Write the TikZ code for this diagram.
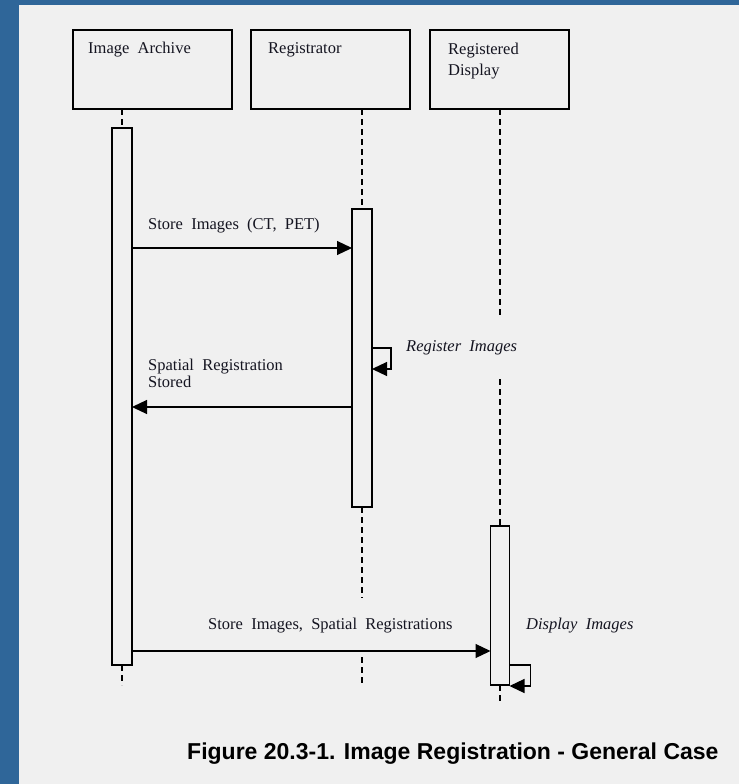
\documentclass[tikz,border=0pt]{standalone}
\usepackage{fontspec}
\setmainfont{Liberation Serif}[WordSpace={2.0}]
\newfontfamily\capfont{Liberation Sans}
\usetikzlibrary{arrows.meta}
\definecolor{bg}{HTML}{F0F0F0}
\definecolor{frame}{RGB}{47,102,153}
\definecolor{ink}{HTML}{141420}
\begin{document}
\begin{tikzpicture}[x=1pt,y=-1pt,
  box/.style={draw, line width=1.3pt, fill=bg, inner sep=0pt, outer sep=0pt,
    minimum width=159pt, minimum height=79pt},
  actbar/.style={draw, line width=1.3pt, fill=bg, inner sep=0pt, outer sep=0pt,
    minimum width=20pt},
  life/.style={line width=1.3pt, dash pattern=on 6pt off 4pt},
  msg/.style={line width=1.2pt, -{Triangle[length=15pt,width=14pt]}},
  txt/.style={inner sep=0pt, anchor=base west, text=ink, font=\fontsize{16.5}{20}\selectfont},
  itxt/.style={txt, font=\fontsize{16.5}{20}\selectfont\itshape},
  lbl/.style={fill=bg, inner xsep=0pt, inner ysep=21pt},
]
\useasboundingbox (0,0) rectangle (739,784);
\fill[bg] (0,0) rectangle (739,784);
\fill[frame] (0,0) rectangle (19,784);
\fill[frame] (0,0) rectangle (739,5);

% header boxes
\node[box] (ia) at (152.5,69.5) {};
\node[box] (rg) at (330.5,69.5) {};
\node[box, minimum width=139pt] (rd) at (499.5,69.5) {};
\node[txt] (iat) at (88,53) {Image Archive};
\node[txt] (rgt) at (268,53) {Registrator};
\node[txt] (rdt1) at (448,55) {Registered};
\node[txt] (rdt2) at (448,75) {Display};

% coordinates for lifeline ends and message rows
\coordinate (end1) at (122,685);
\coordinate (end2) at (362,683);
\coordinate (end3) at (500,704);
\coordinate (y1) at (0,248);
\coordinate (y2) at (0,407);
\coordinate (y3) at (0,651);
\coordinate (s1a) at (0,348);
\coordinate (s1b) at (0,369);
\coordinate (s2a) at (0,665);
\coordinate (s2b) at (0,686);

% activation bars
\node[actbar, minimum height=537pt] (act1) at (122,396.5) {};
\node[actbar, minimum height=298pt] (act2) at (362,358) {};
\node[actbar, minimum height=159pt, minimum width=19pt] (act3) at (500,605.5) {};

% lifelines
\draw[life] (act1.north |- ia.south) -- (act1.north);
\draw[life] (act1.south) -- (end1);
\draw[life] (act2.north |- rg.south) -- (act2.north);
\draw[life] (act2.south) -- (end2);
\draw[life] (act3.north |- rd.south) -- (act3.north);
\draw[life] (act3.south) -- (end3);

% labels (masking lifelines they cross)
\node[txt] (m1) at (148,229) {Store Images (CT, PET)};
\node[itxt, lbl] (r1) at (406,351) {Register Images};
\node[txt] (m2a) at (148,370) {Spatial Registration};
\node[txt] (m2b) at (148,387) {Stored};
\node[txt, lbl, inner ysep=20pt] (m3) at (208,629) {Store Images, Spatial Registrations};
\node[itxt] (r2) at (526,629) {Display Images};

% messages
\draw[msg] (act1.east |- y1) -- (act2.west |- y1);
\draw[msg] (act2.east |- s1a) -- ++(19,0) |- (act2.east |- s1b);
\draw[msg] (act2.west |- y2) -- (act1.east |- y2);
\draw[msg] (act1.east |- y3) -- (act3.west |- y3);
\draw[msg] (act3.east |- s2a) -- ++(21,0) |- (act3.east |- s2b);

% caption
\node[inner sep=0pt, anchor=base west, font=\capfont\bfseries\fontsize{23}{28}\selectfont] (cap) at (187,759)
  {Figure 20.3-1. Image Registration - General Case};
\end{tikzpicture}
\end{document}
